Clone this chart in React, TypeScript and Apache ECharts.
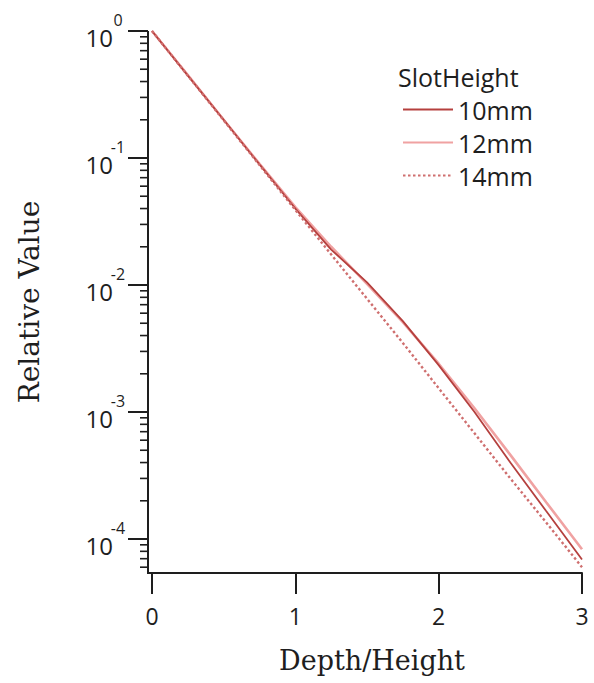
import React, { useEffect, useRef } from "react";
import * as echarts from "echarts";

// Depth normalised by slot height
const depth = [0, 0.25, 0.5, 0.75, 1, 1.25, 1.5, 1.75, 2, 2.25, 2.5, 2.75, 3];

// Relative value for each slot height
const slot10mm = [1, 0.445, 0.2, 0.089, 0.04, 0.019, 0.0105, 0.0052, 0.00234, 0.001, 0.0004, 0.000166, 0.000069];
const slot12mm = [1, 0.45, 0.2, 0.09, 0.041, 0.02, 0.0102, 0.0051, 0.0024, 0.00107, 0.00046, 0.000195, 0.000083];
const slot14mm = [1, 0.445, 0.198, 0.088, 0.039, 0.0174, 0.0078, 0.0035, 0.00154, 0.00068, 0.0003, 0.000135, 0.00006];

const seriesNames = ["10mm", "12mm", "14mm"];

// Log axis decades and their exponent labels
const yMajorValues = [1, 0.1, 0.01, 0.001, 0.0001];
const yExponents = ["0", "-1", "-2", "-3", "-4"];
const yMinorMantissas = [2, 3, 4, 5, 6, 7, 8, 9];
const yMin = 0.000054;
const yMax = 1;

const SANS = "'Open Sans', 'DejaVu Sans', sans-serif";
const SERIF = "'DejaVu Serif', 'Liberation Serif', serif";
const INK = "#1e1e1e";

function pairs(ys: number[]) {
  return depth.map((d, i) => [d, ys[i]]);
}

function renderLogAxis(_params: any, api: any) {
  const children: any[] = [];
  const axisX = api.coord([0, yMax])[0] - 4;
  const yTop = api.coord([0, yMax])[1];
  const yBot = api.coord([0, yMin])[1];
  children.push({
    type: "line",
    shape: { x1: axisX, y1: yTop, x2: axisX, y2: yBot + 1 },
    style: { stroke: INK, lineWidth: 2 },
  });
  children.push({
    type: "line",
    shape: { x1: axisX - 1, y1: yBot, x2: axisX + 6, y2: yBot },
    style: { stroke: INK, lineWidth: 2 },
  });
  yMajorValues.forEach((v, i) => {
    const y = api.coord([0, v])[1];
    children.push({
      type: "line",
      shape: { x1: axisX - 20, y1: y, x2: axisX, y2: y },
      style: { stroke: INK, lineWidth: 2 },
    });
    children.push({
      type: "text",
      x: 113,
      y: y + 6,
      style: {
        text: "10",
        fill: INK,
        fontSize: 24,
        fontFamily: SANS,
        align: "right",
        verticalAlign: "middle",
        textAlign: "right",
        textVerticalAlign: "middle",
      },
    });
    children.push({
      type: "text",
      x: 118,
      y: y - 11,
      style: {
        text: yExponents[i],
        fill: INK,
        fontSize: 16,
        fontFamily: SANS,
        align: "center",
        verticalAlign: "middle",
        textAlign: "center",
        textVerticalAlign: "middle",
      },
    });
  });
  yMajorValues.forEach((decade) => {
    yMinorMantissas.forEach((m) => {
      const v = (m * decade) / 10;
      if (v < yMin || v >= yMax) return;
      const y = api.coord([0, v])[1];
      children.push({
        type: "line",
        shape: { x1: axisX - 8, y1: y, x2: axisX, y2: y },
        style: { stroke: INK, lineWidth: 1.6 },
      });
    });
  });
  return { type: "group", children };
}

export default function App() {
  const ref = useRef<HTMLDivElement>(null);

  useEffect(() => {
    if (!ref.current) return;
    const chart = echarts.init(ref.current, undefined, { renderer: "svg" });
    chart.setOption({
      animation: false,
      backgroundColor: "#ffffff",
      grid: { left: 152, right: 12, top: 31, bottom: 110, containLabel: false },
      xAxis: {
        type: "value",
        min: 0,
        max: 3,
        interval: 1,
        axisLine: { show: true, lineStyle: { color: INK, width: 2 } },
        axisTick: { show: true, inside: false, length: 21, lineStyle: { color: INK, width: 2 } },
        axisLabel: { fontSize: 23, fontFamily: SANS, color: INK, margin: 31 },
        splitLine: { show: false },
      },
      yAxis: {
        type: "log",
        logBase: 10,
        min: yMin,
        max: yMax,
        axisLine: { show: false },
        axisTick: { show: false },
        axisLabel: { show: false },
        splitLine: { show: false },
      },
      legend: {
        data: seriesNames,
        orient: "vertical",
        left: 397,
        top: 92,
        itemWidth: 50,
        itemHeight: 14,
        itemGap: 8,
        itemStyle: { opacity: 0 },
        textStyle: { fontSize: 25, fontFamily: SANS, color: INK },
      },
      graphic: [
        {
          type: "text",
          x: 398,
          y: 77,
          style: {
            text: "SlotHeight",
            fill: INK,
            fontSize: 25,
            fontFamily: SANS,
            textAlign: "left",
            textVerticalAlign: "middle",
          },
        },
        {
          type: "text",
          x: 29,
          y: 302,
          rotation: Math.PI / 2,
          style: {
            text: "Relative Value",
            fill: INK,
            fontSize: 28,
            fontFamily: SERIF,
            textAlign: "center",
            textVerticalAlign: "middle",
          },
        },
        {
          type: "text",
          x: 372,
          y: 660,
          style: {
            text: "Depth/Height",
            fill: INK,
            fontSize: 27,
            fontFamily: SERIF,
            textAlign: "center",
            textVerticalAlign: "middle",
          },
        },
      ],
      series: [
        {
          name: "12mm",
          type: "line",
          data: pairs(slot12mm),
          symbol: "none",
          z: 2,
          lineStyle: { color: "#f0a2a2", width: 2.6 },
          itemStyle: { color: "#f0a2a2" },
        },
        {
          name: "10mm",
          type: "line",
          data: pairs(slot10mm),
          symbol: "none",
          z: 3,
          lineStyle: { color: "#b5403e", width: 1.8 },
          itemStyle: { color: "#b5403e" },
        },
        {
          name: "14mm",
          type: "line",
          data: pairs(slot14mm),
          symbol: "none",
          z: 4,
          lineStyle: { color: "#cf6f6f", width: 2.4, type: [2.5, 2.5] },
          itemStyle: { color: "#cf6f6f" },
        },
        {
          type: "custom",
          name: "axis",
          data: [[0, 1]],
          silent: true,
          clip: false,
          z: 5,
          renderItem: renderLogAxis,
        },
      ],
    });
    return () => chart.dispose();
  }, []);

  return (
    <div
      ref={ref}
      style={{ position: "absolute", left: 0, top: 0, width: 594, height: 683, background: "#fff" }}
    />
  );
}
